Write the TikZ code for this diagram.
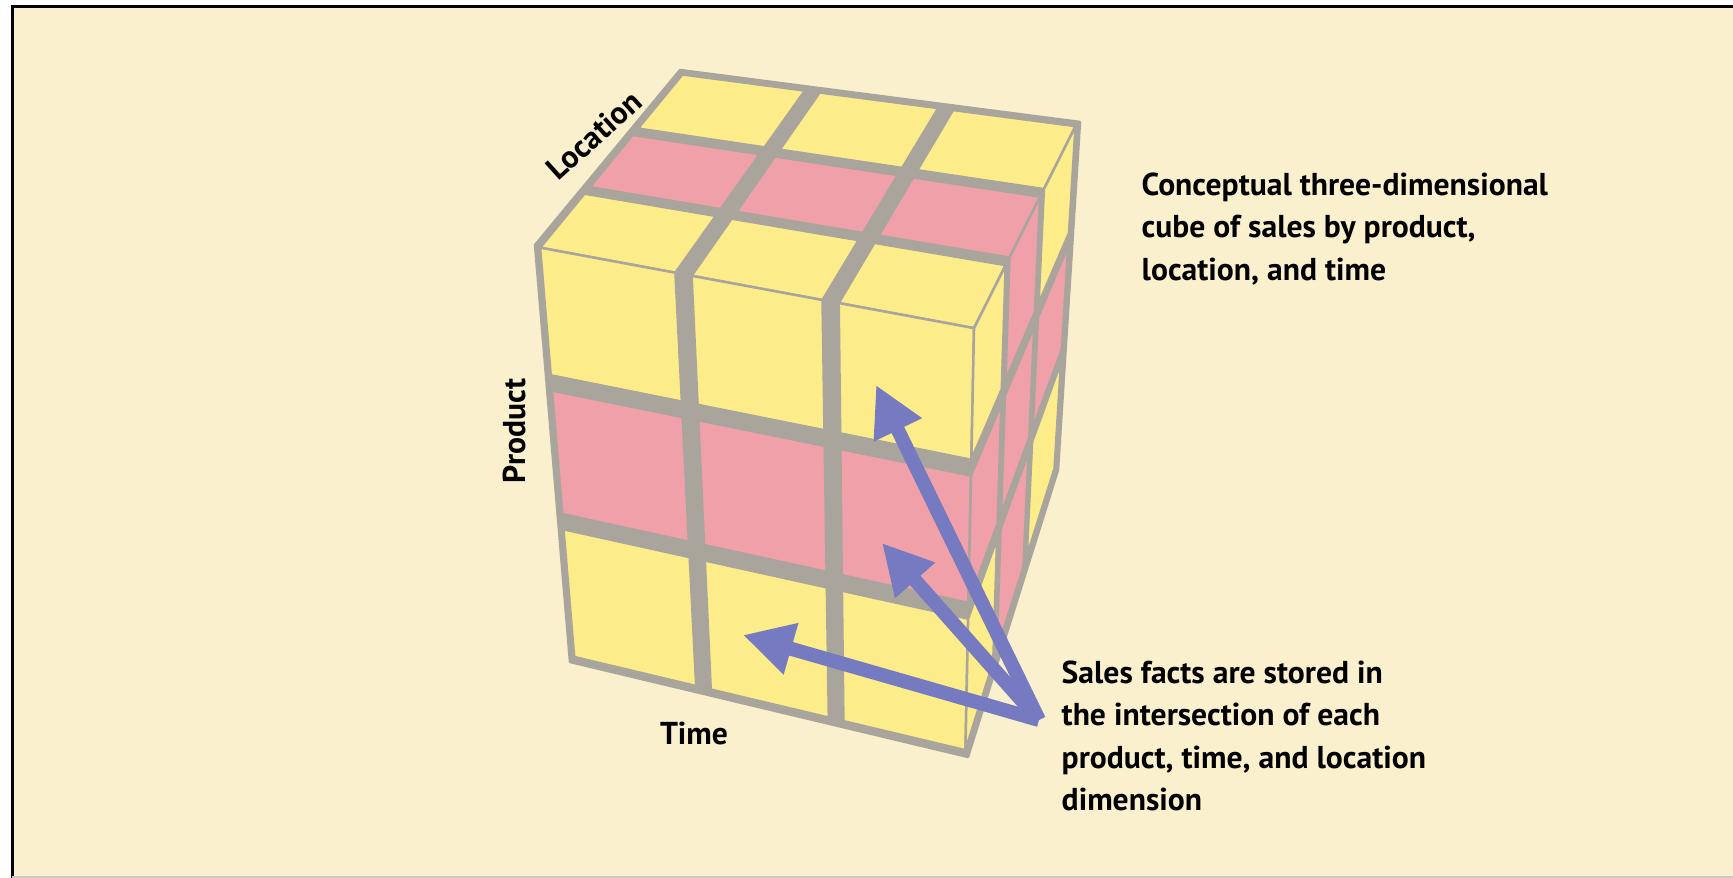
\documentclass[tikz,border=0pt]{standalone}
\usepackage{fontspec}
\setmainfont{PT Sans}
\usetikzlibrary{arrows.meta}

\definecolor{paper}{RGB}{250,240,206}
\definecolor{cubeyellow}{RGB}{253,236,138}
\definecolor{cubepink}{RGB}{240,160,168}
\definecolor{cubegray}{RGB}{170,165,156}
\definecolor{arrowblue}{RGB}{118,122,192}

\newcommand{\labelfont}{\fontsize{9}{12.1}\selectfont\bfseries}

% outer corners of the cube, in picture pixels
\def\Ex{570}\def\Ey{662}   % front left bottom
\def\Fx{968}\def\Fy{757}   % front right bottom
\def\Hx{715}\def\Hy{385}   % back left bottom (hidden)
\def\Gx{1058}\def\Gy{470}  % back right bottom
\def\Dx{535}\def\Dy{245}   % front left top
\def\Cx{977}\def\Cy{327}   % front right top
\def\Ax{680}\def\Ay{70}    % back left top
\def\Bx{1080}\def\By{122}  % back right top
\def\gap{0.055}
\def\rim{0.025}

% point (u,v,w) of the cube, each in 0..3
\newcommand{\cubept}[4]{%
  \pgfmathsetmacro\cbu{#2/3}%
  \pgfmathsetmacro\cbv{#3/3}%
  \pgfmathsetmacro\cbw{#4/3}%
  \pgfmathsetmacro\cbx{(1-\cbu)*(1-\cbv)*(1-\cbw)*\Ex + \cbu*(1-\cbv)*(1-\cbw)*\Fx
    + (1-\cbu)*\cbv*(1-\cbw)*\Hx + \cbu*\cbv*(1-\cbw)*\Gx
    + (1-\cbu)*(1-\cbv)*\cbw*\Dx + \cbu*(1-\cbv)*\cbw*\Cx
    + (1-\cbu)*\cbv*\cbw*\Ax + \cbu*\cbv*\cbw*\Bx}%
  \pgfmathsetmacro\cby{(1-\cbu)*(1-\cbv)*(1-\cbw)*\Ey + \cbu*(1-\cbv)*(1-\cbw)*\Fy
    + (1-\cbu)*\cbv*(1-\cbw)*\Hy + \cbu*\cbv*(1-\cbw)*\Gy
    + (1-\cbu)*(1-\cbv)*\cbw*\Dy + \cbu*(1-\cbv)*\cbw*\Cy
    + (1-\cbu)*\cbv*\cbw*\Ay + \cbu*\cbv*\cbw*\By}%
  \coordinate (#1) at (\cbx,\cby)}

\begin{document}
\begin{tikzpicture}[x=0.1mm, y=-0.1mm,
    facebox/.style={draw=cubegray, line width=0.25mm, line join=round},
    axislabel/.style={font=\labelfont, inner sep=0pt},
    note/.style={font=\labelfont, align=left, inner sep=0pt, anchor=west},
    factarrow/.style={draw=arrowblue, line width=1.4mm, -{Triangle[length=5mm,width=5mm]}}]
    \useasboundingbox (0,0) rectangle (1733,878);

    % Frame
    \fill[white] (0,0) rectangle (1733,878);
    \fill[paper] (12,7) rectangle (1733,877);
    \draw[black, line width=0.3mm] (12,878) -- (12,7) -- (1733,7);
    \draw[cubegray!60, line width=0.2mm] (12,877) -- (1733,877);

    % Cube body, seen through the gaps
    \cubept{E}{0}{0}{0}; \cubept{F}{3}{0}{0}; \cubept{G}{3}{3}{0};
    \cubept{D}{0}{0}{3}; \cubept{A}{0}{3}{3}; \cubept{B}{3}{3}{3};
    \filldraw[facebox, fill=cubegray] (E) -- (D) -- (A) -- (B) -- (G) -- (F) -- cycle;

    % Cubelets: top, front and right faces
    \foreach \i in {0,1,2}{
      \foreach \j in {0,1,2}{
        \foreach \k in {0,1,2}{
          \pgfmathsetmacro\ilo{\i==0 ? \rim : \i+\gap}\pgfmathsetmacro\ihi{\i==2 ? 3-\rim : \i+1-\gap}
          \pgfmathsetmacro\jlo{\j==0 ? \rim : \j+\gap}\pgfmathsetmacro\jhi{\j==2 ? 3-\rim : \j+1-\gap}
          \pgfmathsetmacro\klo{\k==0 ? \rim : \k+\gap}\pgfmathsetmacro\khi{\k==2 ? 3-\rim : \k+1-\gap}
          \ifnum\k=2
            \ifnum\j=1 \def\facecol{cubepink}\else\def\facecol{cubeyellow}\fi
            \cubept{t1}{\ilo}{\jlo}{\khi}; \cubept{t2}{\ihi}{\jlo}{\khi};
            \cubept{t3}{\ihi}{\jhi}{\khi}; \cubept{t4}{\ilo}{\jhi}{\khi};
            \filldraw[facebox, fill=\facecol] (t1) -- (t2) -- (t3) -- (t4) -- cycle;
          \fi
          \ifnum\j=0
            \ifnum\k=1 \def\facecol{cubepink}\else\def\facecol{cubeyellow}\fi
            \cubept{f1}{\ilo}{\jlo}{\klo}; \cubept{f2}{\ihi}{\jlo}{\klo};
            \cubept{f3}{\ihi}{\jlo}{\khi}; \cubept{f4}{\ilo}{\jlo}{\khi};
            \filldraw[facebox, fill=\facecol] (f1) -- (f2) -- (f3) -- (f4) -- cycle;
          \fi
          \ifnum\i=2
            \def\facecol{cubeyellow}
            \ifnum\j=1 \def\facecol{cubepink}\fi
            \ifnum\k=1 \def\facecol{cubepink}\fi
            \cubept{r1}{\ihi}{\jlo}{\klo}; \cubept{r2}{\ihi}{\jhi}{\klo};
            \cubept{r3}{\ihi}{\jhi}{\khi}; \cubept{r4}{\ihi}{\jlo}{\khi};
            \filldraw[facebox, fill=\facecol] (r1) -- (r2) -- (r3) -- (r4) -- cycle;
          \fi
        }
      }
    }

    % Nodes
    \node[axislabel, rotate=42] (loc) at (594,135) {Location};
    \node[axislabel, rotate=90] (prod) at (514,431) {Product};
    \node[axislabel] (time) at (694,733) {Time};
    \node[note] (title) at (1141,229) {Conceptual three-dimensional\\cube of sales by product,\\location, and time};
    \node[note] (facts) at (1061,736) {Sales facts are stored in\\the intersection of each\\product, time, and location\\dimension};

    % Connectors
    \coordinate (src) at (1039,720);
    \coordinate (hit1) at (876,385);
    \coordinate (hit2) at (882,543);
    \coordinate (hit3) at (743,635);
    \draw[factarrow] (src) -- (hit1);
    \draw[factarrow] (src) -- (hit2);
    \draw[factarrow] (src) -- (hit3);
\end{tikzpicture}
\end{document}
